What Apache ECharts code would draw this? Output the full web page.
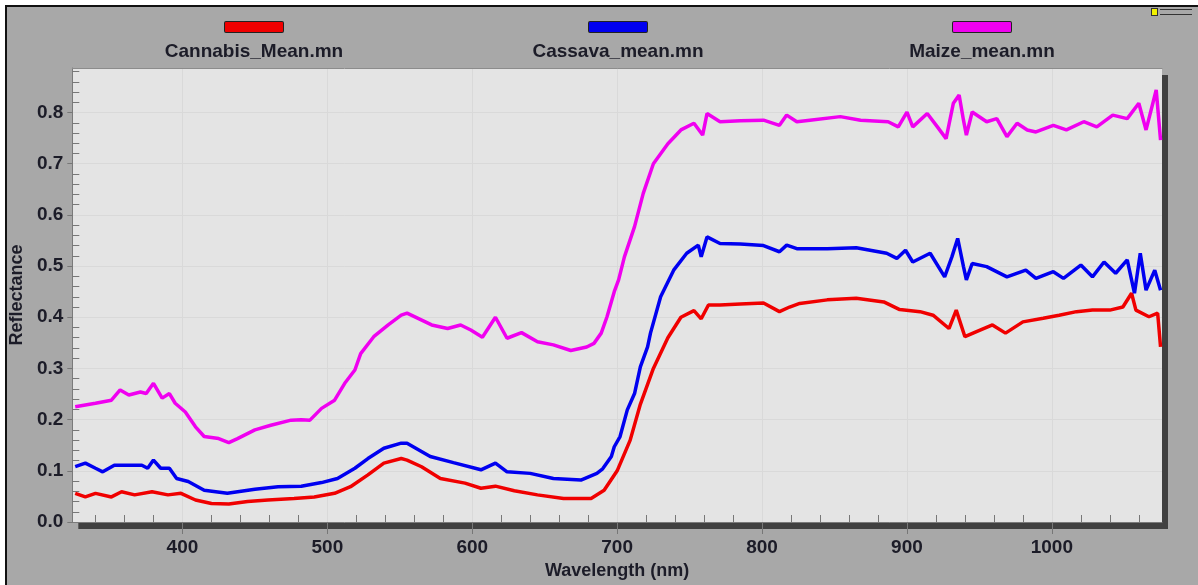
<!DOCTYPE html>
<html lang="en">
  <head>
    <meta charset="UTF-8" />
    <title>Reflectance spectra</title>
    <style>
      body { margin: 0; background: #fff; }
      #frame {
        position: absolute; left: 5px; top: 5px; width: 1193px; height: 578px;
        background: #a8a8a8; border-top: 2px solid #111; border-left: 2px solid #111;
        border-bottom: 1px solid #555;
      }
      #knob { position: absolute; left: 1151px; top: 8px; width: 5px; height: 6px; background: #f2f200; border: 1px solid #333; }
      #bars { position: absolute; left: 1160px; top: 9px; width: 32px; height: 4px; border-top: 1px solid #333; border-bottom: 1px solid #333; }
      #main { position: absolute; left: 0; top: 0; width: 1198px; height: 585px; }
    </style>
  </head>
  <body>
    <div id="frame"></div>
    <div id="knob"></div>
    <div id="bars"></div>
    <div id="main"></div>
    <script src="https://cdn.jsdelivr.net/npm/echarts@6.0.0/dist/echarts.min.js"></script>
    <script>
      // wavelength (nm), reflectance
      const cannabis = [
        [326, 0.056], [333, 0.049], [340, 0.056], [351, 0.049], [358, 0.059], [367, 0.053],
        [379, 0.059], [390, 0.053], [399, 0.056], [409, 0.043], [420, 0.036], [432, 0.035],
        [445, 0.04], [459, 0.043], [477, 0.046], [491, 0.049], [505, 0.056], [516, 0.069],
        [528, 0.092], [539, 0.115], [551, 0.124], [555, 0.121], [565, 0.108], [578, 0.085],
        [595, 0.076], [606, 0.066], [616, 0.07], [629, 0.061], [645, 0.053], [663, 0.046],
        [682, 0.046], [691, 0.062], [700, 0.1], [709, 0.16], [716, 0.23], [725, 0.3],
        [735, 0.36], [744, 0.4], [753, 0.413], [758, 0.397], [763, 0.424], [771, 0.424],
        [785, 0.426], [801, 0.428], [812, 0.411], [819, 0.42], [826, 0.427], [845, 0.434],
        [865, 0.437], [884, 0.43], [895, 0.415], [909, 0.411], [918, 0.404], [929, 0.378],
        [934, 0.414], [940, 0.362], [948, 0.372], [959, 0.385], [968, 0.369], [980, 0.391],
        [994, 0.398], [1005, 0.404], [1017, 0.411], [1028, 0.414], [1040, 0.414], [1049, 0.42],
        [1055, 0.447], [1058, 0.414], [1067, 0.401], [1073, 0.408], [1075, 0.342]
      ]
      const cassava = [
        [326, 0.108], [333, 0.115], [340, 0.105], [345, 0.098], [353, 0.111], [363, 0.111],
        [372, 0.111], [376, 0.105], [380, 0.121], [385, 0.105], [391, 0.105], [396, 0.085],
        [404, 0.079], [415, 0.062], [431, 0.056], [450, 0.064], [466, 0.069], [482, 0.07],
        [496, 0.077], [507, 0.085], [519, 0.105], [528, 0.124], [539, 0.144], [551, 0.154],
        [555, 0.154], [571, 0.128], [587, 0.116], [606, 0.102], [616, 0.115], [624, 0.098],
        [640, 0.095], [656, 0.085], [675, 0.082], [686, 0.095], [690, 0.104], [696, 0.128],
        [698, 0.147], [702, 0.167], [707, 0.219], [712, 0.251], [716, 0.303], [721, 0.342],
        [723, 0.369], [730, 0.44], [739, 0.492], [748, 0.525], [756, 0.541], [758, 0.518],
        [762, 0.557], [771, 0.544], [785, 0.543], [801, 0.54], [812, 0.528], [817, 0.541],
        [824, 0.534], [845, 0.534], [865, 0.536], [886, 0.525], [893, 0.515], [899, 0.531],
        [904, 0.508], [916, 0.525], [926, 0.479], [931, 0.518], [935, 0.554], [939, 0.499],
        [941, 0.473], [945, 0.505], [955, 0.499], [969, 0.479], [982, 0.492], [989, 0.476],
        [1001, 0.489], [1008, 0.476], [1020, 0.502], [1028, 0.479], [1036, 0.508], [1044, 0.486],
        [1052, 0.512], [1057, 0.447], [1061, 0.525], [1065, 0.453], [1071, 0.492], [1075, 0.453]
      ]
      const maize = [
        [326, 0.225], [340, 0.232], [351, 0.238], [357, 0.258], [363, 0.248], [371, 0.254],
        [375, 0.251], [380, 0.271], [386, 0.242], [391, 0.251], [395, 0.232], [402, 0.215],
        [409, 0.186], [415, 0.167], [425, 0.163], [432, 0.155], [438, 0.163], [450, 0.18],
        [461, 0.189], [475, 0.199], [482, 0.2], [488, 0.199], [496, 0.222], [505, 0.238],
        [512, 0.271], [519, 0.297], [523, 0.329], [532, 0.362], [542, 0.385], [551, 0.404],
        [555, 0.408], [572, 0.385], [583, 0.378], [592, 0.385], [599, 0.375], [607, 0.361],
        [616, 0.4], [624, 0.359], [634, 0.37], [645, 0.352], [656, 0.346], [668, 0.335],
        [679, 0.342], [684, 0.349], [689, 0.369], [693, 0.401], [698, 0.45], [701, 0.473],
        [705, 0.518], [712, 0.577], [718, 0.642], [725, 0.7], [735, 0.739], [744, 0.766],
        [753, 0.779], [759, 0.756], [762, 0.798], [771, 0.782], [785, 0.784], [801, 0.785],
        [812, 0.775], [817, 0.795], [824, 0.782], [833, 0.785], [854, 0.792], [868, 0.785],
        [887, 0.782], [894, 0.772], [900, 0.801], [904, 0.772], [914, 0.798], [921, 0.772],
        [927, 0.749], [932, 0.818], [936, 0.834], [939, 0.785], [941, 0.756], [945, 0.801],
        [955, 0.782], [962, 0.788], [969, 0.753], [976, 0.779], [983, 0.766], [989, 0.762],
        [1001, 0.775], [1010, 0.766], [1022, 0.782], [1031, 0.772], [1042, 0.795], [1052, 0.788],
        [1060, 0.818], [1065, 0.766], [1072, 0.844], [1075, 0.746]
      ]

      const names = ['Cannabis_Mean.mn', 'Cassava_mean.mn', 'Maize_mean.mn']
      const colors = ['#f00000', '#0000f0', '#f000f0']
      const xTicks = [400, 500, 600, 700, 800, 900, 1000]
      const yTicks = [0, 0.1, 0.2, 0.3, 0.4, 0.5, 0.6, 0.7, 0.8]

      const xMin = 324
      const xMax = 1076
      const yMax = 0.887

      // minor ticks every 20 nm / 0.02, skipping the major ones
      const xMinor = []
      for (let v = 340; v < xMax; v += 20) if (v % 100 !== 0) xMinor.push(v)
      const yMinor = []
      for (let i = 1; i * 0.02 < yMax; i++) if (i % 5 !== 0) yMinor.push(+(i * 0.02).toFixed(2))

      const font = 'Liberation Sans, Arial, sans-serif'
      const txt = '#1c1c28'

      const rich = { t: { width: 240, align: 'center', fontSize: 19, fontWeight: 'bold', lineHeight: 25, color: txt, fontFamily: font } }
      colors.forEach((c, i) => {
        rich['b' + i] = {
          width: 58, height: 10, lineHeight: 24, align: 'center',
          backgroundColor: c, borderColor: '#222', borderWidth: 1, borderRadius: 1
        }
      })

      const myChart = echarts.init(document.getElementById('main'))

      const option = {
        animation: false,
        backgroundColor: 'transparent',
        grid: {
          left: 71, right: 36, top: 68, bottom: 63,
          show: true,
          backgroundColor: '#e4e4e4',
          borderWidth: 0,
          shadowColor: '#404040',
          shadowBlur: 0,
          shadowOffsetX: 6,
          shadowOffsetY: 7
        },
        legend: {
          top: 21,
          left: 128,
          padding: 0,
          itemGap: 118,
          itemWidth: 0,
          itemHeight: 0,
          selectedMode: false,
          data: names,
          formatter: name => `{b${names.indexOf(name)}|}\n{t|${name}}`,
          textStyle: { rich }
        },
        xAxis: [
          {
            type: 'value',
            min: xMin,
            max: xMax,
            name: 'Wavelength (nm)',
            nameLocation: 'middle',
            nameGap: 39,
            nameTextStyle: { fontSize: 18, fontWeight: 'bold', color: txt, fontFamily: font },
            axisLine: { show: true, lineStyle: { color: '#7a7a7a' } },
            axisTick: { show: true, length: 12, customValues: xTicks, lineStyle: { color: '#777' } },
            axisLabel: {
              customValues: xTicks,
              margin: 16,
              fontSize: 19,
              fontWeight: 'bold',
              color: txt,
              fontFamily: font,
              formatter: v => String(v)
            },
            splitLine: { show: true, lineStyle: { color: '#d9d9d9', width: 1 } }
          },
          {
            type: 'value',
            position: 'bottom',
            min: xMin,
            max: xMax,
            axisLine: { show: false },
            axisTick: { show: true, inside: true, length: 7, customValues: xMinor, lineStyle: { color: '#777' } },
            axisLabel: { show: false },
            splitLine: { show: false }
          },
          {
            // thin frame line along the top of the plot
            type: 'value',
            position: 'top',
            min: xMin,
            max: xMax,
            axisLine: { show: true, lineStyle: { color: '#8c8c8c' } },
            axisTick: { show: false },
            axisLabel: { show: false },
            splitLine: { show: false }
          }
        ],
        yAxis: [
          {
            type: 'value',
            min: 0,
            max: yMax,
            name: 'Reflectance',
            nameLocation: 'middle',
            nameGap: 46,
            nameTextStyle: { fontSize: 18, fontWeight: 'bold', color: txt, fontFamily: font },
            axisLine: { show: true, lineStyle: { color: '#7a7a7a' } },
            axisTick: { show: true, length: 5, customValues: yTicks, lineStyle: { color: '#777' } },
            axisLabel: {
              customValues: yTicks,
              margin: 9,
              fontSize: 19,
              fontWeight: 'bold',
              color: txt,
              fontFamily: font,
              formatter: v => v.toFixed(1)
            },
            splitLine: { show: true, lineStyle: { color: '#d9d9d9', width: 1 } }
          },
          {
            type: 'value',
            position: 'left',
            min: 0,
            max: yMax,
            axisLine: { show: false },
            axisTick: { show: true, inside: true, length: 7, customValues: yMinor, lineStyle: { color: '#777' } },
            axisLabel: { show: false },
            splitLine: { show: false }
          }
        ],
        series: [cannabis, cassava, maize].map((d, i) => ({
          name: names[i],
          type: 'line',
          data: d,
          showSymbol: false,
          symbol: 'none',
          color: colors[i],
          lineStyle: { width: 3.5, color: colors[i] }
        }))
      }

      myChart.setOption(option)
    </script>
  </body>
</html>
